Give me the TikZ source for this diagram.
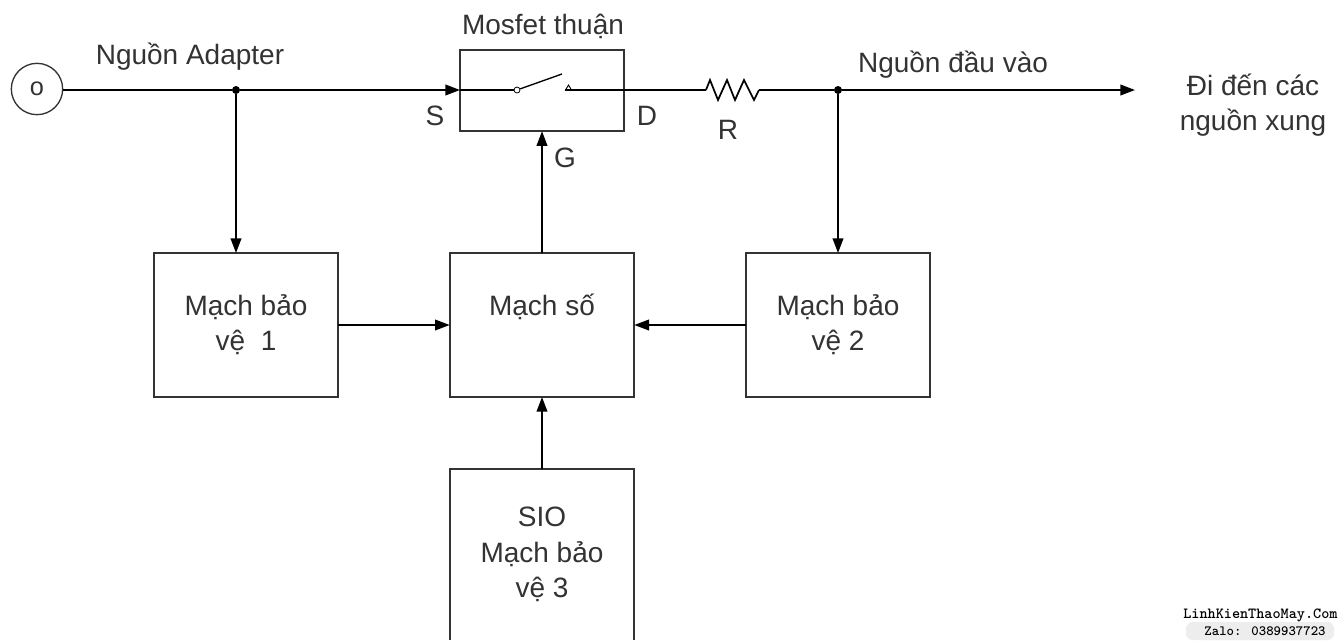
\documentclass[tikz,border=0pt]{standalone}
\usepackage{fontspec}
\setmainfont{Liberation Sans}
\usetikzlibrary{arrows.meta}
\definecolor{ink}{HTML}{333333}
\tikzset{
  x=0.75pt,y=-0.75pt,
  wire/.style={draw=black,line width=1.3pt},
  flow/.style={wire,-{Triangle[length=11pt,width=8pt]}},
  blockbox/.style={draw=ink,line width=1.4pt,outer sep=0pt,minimum width=138.5pt,minimum height=108pt,inner sep=0pt,align=center,text=ink,font=\fontsize{21}{26.5}\selectfont},
  lab/.style={text=ink,font=\fontsize{21}{26.5}\selectfont,inner sep=0pt,align=center},
  dot/.style={circle,fill=black,inner sep=0pt,minimum size=6pt}
}
\begin{document}
\begin{tikzpicture}
\useasboundingbox[fill=white] (0,0) rectangle (1338,640);
% source
\node[circle,draw=ink,line width=1pt,minimum size=38.5pt,inner sep=0pt,text=ink,font=\fontsize{19}{20}\selectfont] (src) at (37,89) {o};
% boxes
\node[draw=ink,line width=1.4pt,outer sep=0pt,minimum width=123pt,minimum height=61pt,inner sep=0pt] (mos) at (542,90.5) {};
\node[blockbox] (b1) at (246,325) {Mạch bảo\\vệ\ \ 1};
\node[blockbox] (dig) at (542,325) {\raisebox{7.5pt}[0pt][0pt]{Mạch số}};
\node[blockbox] (b2) at (838,325) {Mạch bảo\\vệ 2};
\node[blockbox,draw=none,minimum height=128.25pt] (sio) at (542,554.5) {SIO\\Mạch bảo\\vệ 3};
\draw[draw=ink,line width=1.4pt] (sio.south west) |- (sio.north east) -- (sio.south east);
% top rail
\node[dot] (j1) at (236,90) {};
\node[dot] (j2) at (838,90) {};
\coordinate (mosin) at (mos.west |- j1);
\coordinate (swa) at (517,90);
\coordinate (blade) at (562,74);
\coordinate (swb) at (565,90);
\coordinate (r1) at (706,90);
\coordinate (r2) at (759,90);
\coordinate (out) at (1135,90);
\draw[wire] (src.east |- j1) -- (j1);
\draw[flow] (j1) -- (mosin);
\draw[wire] (mosin) -- (swa);
\node[circle,draw=black,fill=white,line width=0.6pt,minimum size=4.5pt,inner sep=0pt] (pivot) at (swa) {};
\draw[wire,line width=1pt] (pivot) -- (blade);
\draw[draw=black,line width=0.7pt] (565.5,90) -- (568.5,85) -- (571.5,90) -- cycle;
\draw[wire] (swb) -- (r1);
\draw[wire,line join=miter] (r1) -- (710,80) -- (718,100) -- (727,80) -- (735,100) -- (744,80) -- (754,100) -- (r2);
\draw[wire] (r2) -- (j2);
\draw[flow] (j2) -- (out);
\draw[flow] (j1) -- (j1 |- b1.north);
\draw[flow] (j2) -- (j2 |- b2.north);
\draw[flow] (dig.north) -- (mos.south);
\draw[flow] (b1.east) -- (dig.west);
\draw[flow] (b2.west) -- (dig.east);
\draw[flow] (sio.north) -- (dig.south);
% labels
\node[lab] (ladapter) at (190,57) {Nguồn Adapter};
\node[lab] (lmos) at (543,26) {Mosfet thuận};
\node[lab] (lvao) at (953,65) {Nguồn đầu vào};
\node[lab] (ls) at (435,116) {S};
\node[lab] (ld) at (647,116) {D};
\node[lab] (lg) at (565,158) {G};
\node[lab] (lr) at (728,130) {R};
\node[lab] (lout) at (1253,105) {Đi đến các\\nguồn xung};
% watermark
\fill[black!7,rounded corners=5pt] (1186,622) rectangle (1334,640);
\fill[black!7,rounded corners=5pt] (1196,627) rectangle (1332,640);
\node[font=\ttfamily\bfseries\fontsize{11.6}{11.5}\selectfont,inner sep=0pt,anchor=west,text=black] (wm1) at (1183,615) {LinhKienThaoMay.Com};
\node[font=\ttfamily\bfseries\fontsize{10.6}{11.5}\selectfont,inner sep=0pt,text=black] (wm2) at (1265,631) {Zalo: 0389937723};
\end{tikzpicture}
\end{document}
